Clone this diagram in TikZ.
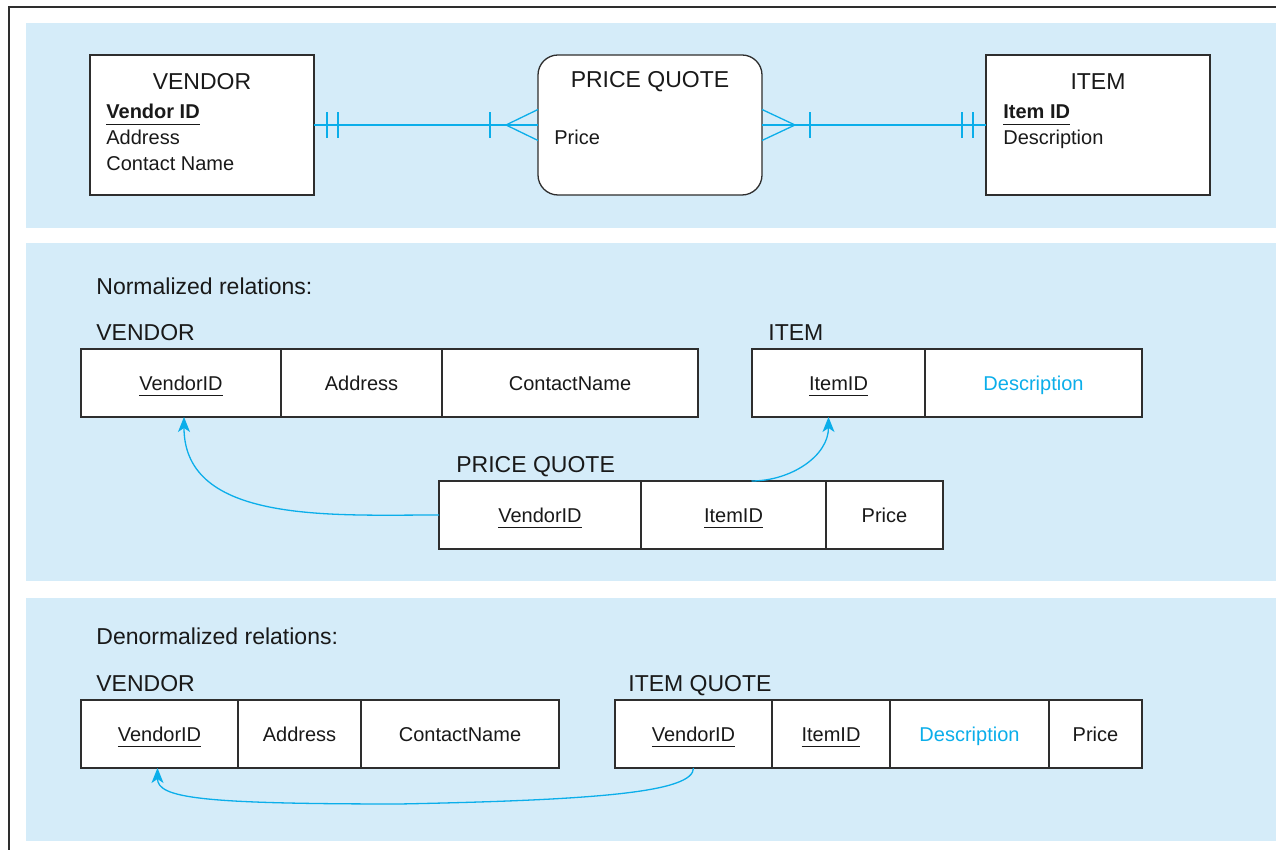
\documentclass[tikz,border=0pt]{standalone}
\usepackage{fontspec}
\setmainfont{Liberation Sans}
\usetikzlibrary{arrows.meta,calc,positioning}
\definecolor{erink}{HTML}{2E2E2E}
\definecolor{erpanel}{HTML}{D5ECF9}
\definecolor{erlink}{HTML}{0BAEEA}
\newsavebox\keybox
\newcommand\keyname[1]{\sbox\keybox{#1}\rlap{\smash{\rule[-3pt]{\wd\keybox}{0.6pt}}}\usebox\keybox}
\tikzset{
  every picture/.style={text=black!90},
  panel/.style={fill=erpanel},
  outerframe/.style={draw=erink,line width=0.7pt},
  entity/.style={draw=erink,fill=white,line width=0.65pt,minimum width=112pt,
    minimum height=70pt,inner sep=0pt,outer sep=0pt},
  assoc/.style={entity,rounded corners=10pt},
  entity title/.style={inner sep=0pt,font=\fontsize{11.5}{13}\selectfont},
  attr/.style={anchor=base west,inner sep=0pt,font=\fontsize{10}{12}\selectfont},
  relation label/.style={anchor=base west,inner sep=0pt,font=\fontsize{11.5}{13}\selectfont},
  cell/.style={draw=erink,fill=white,line width=0.65pt,minimum height=34pt,
    inner sep=0pt,outer sep=0pt,text height=7.2pt,text depth=0pt,
    font=\fontsize{10}{12}\selectfont},
  relline/.style={draw=erlink,line width=0.65pt},
  fkarrow/.style={relline,-{Stealth[length=7.5pt,width=6pt,inset=2pt]}},
}

\begin{document}
\begin{tikzpicture}[x=0.5pt,y=0.5pt]
  \path[use as bounding box] (0,0) rectangle (1276,850);
  \draw[outerframe] (9,0) -- (9,843) -- (1276,843);
  % three bands
  \fill[panel] (26,622) rectangle (1276,827);
  \fill[panel] (26,269) rectangle (1276,607);
  \fill[panel] (26,9) rectangle (1276,252);

  % E-R diagram
  \node[entity] (ven) at (202,725) {};
  \node[assoc] (pq) at (650,725) {};
  \node[entity] (item) at (1098,725) {};
  \draw[relline] (ven.east) -- (pq.west);
  \draw[relline] (pq.east) -- (item.west);
  \foreach \dx in {13,24} {
    \draw[relline] ($(ven.east)+(\dx,-13)$) -- ++(0,26);
    \draw[relline] ($(item.west)+(-\dx,-13)$) -- ++(0,26);
  }
  \draw[relline] ($(pq.west)+(-48,-13)$) -- ++(0,26);
  \draw[relline] ($(pq.east)+(48,-13)$) -- ++(0,26);
  \draw[relline] ($(pq.west)+(0,15.5)$) -- ($(pq.west)+(-32,0)$) -- ($(pq.west)+(0,-15.5)$);
  \draw[relline] ($(pq.east)+(0,15.5)$) -- ($(pq.east)+(33,0)$) -- ($(pq.east)+(0,-15.5)$);

  \node[entity title] (ventitle) at ($(ven.north)+(0,-27)$) {VENDOR};
  \node[attr] (venkey) at ($(ven.north west)+(16,-64)$) {\keyname{\bfseries Vendor ID}};
  \node[attr] (venaddr) at ($(ven.north west)+(16,-90)$) {Address};
  \node[attr] (vencname) at ($(ven.north west)+(16,-116)$) {Contact Name};
  \node[entity title] (pqtitle) at ($(pq.north)+(0,-27)$) {PRICE QUOTE};
  \node[attr] (pqattr) at ($(pq.north west)+(16,-90)$) {Price};
  \node[entity title] (itemtitle) at ($(item.north)+(0,-27)$) {ITEM};
  \node[attr] (itemkey) at ($(item.north west)+(17,-64)$) {\keyname{\bfseries Item ID}};
  \node[attr] (itemdesc) at ($(item.north west)+(17,-90)$) {Description};

  % normalized relations
  \node[relation label] (normhead) at (96,555) {Normalized relations:};
  \node[cell,minimum width=100pt,anchor=west] (nvid) at (81,467) {\keyname{VendorID}};
  \node[cell,minimum width=80.5pt,right=0pt of nvid] (nvaddr) {Address};
  \node[cell,minimum width=128pt,right=0pt of nvaddr] (nvcname) {ContactName};
  \node[relation label] (nvlabel) at ($(nvid.north west)+(15,8)$) {VENDOR};

  \node[cell,minimum width=86.5pt,anchor=west] (niid) at (752,467) {\keyname{ItemID}};
  \node[cell,minimum width=108.5pt,right=0pt of niid,text=erlink] (nidesc) {Description};
  \node[relation label] (nilabel) at ($(niid.north west)+(16,8)$) {ITEM};

  \node[cell,minimum width=101pt,anchor=west] (pqvid) at (439,335) {\keyname{VendorID}};
  \node[cell,minimum width=92.5pt,right=0pt of pqvid] (pqiid) {\keyname{ItemID}};
  \node[cell,minimum width=58.5pt,right=0pt of pqiid] (pqprice) {Price};
  \node[relation label] (pqlabel) at ($(pqvid.north west)+(17,8)$) {PRICE QUOTE};

  \draw[fkarrow] (pqvid.west) to[out=180,in=-90] ($(nvid.south)+(3,0)$);
  \draw[fkarrow] ($(pqiid.north)+(18,0)$) to[out=0,in=-90] ($(niid.south)+(-10,0)$);

  % denormalized relations
  \node[relation label] (denormhead) at (96,205) {Denormalized relations:};
  \node[cell,minimum width=78.5pt,anchor=west] (dvid) at (81,116) {\keyname{VendorID}};
  \node[cell,minimum width=61.5pt,right=0pt of dvid] (dvaddr) {Address};
  \node[cell,minimum width=99pt,right=0pt of dvaddr] (dvcname) {ContactName};
  \node[relation label] (dvlabel) at ($(dvid.north west)+(15,8)$) {VENDOR};

  \node[cell,minimum width=78.5pt,anchor=west] (iqvid) at (615,116) {\keyname{VendorID}};
  \node[cell,minimum width=59pt,right=0pt of iqvid] (iqiid) {\keyname{ItemID}};
  \node[cell,minimum width=79.5pt,right=0pt of iqiid,text=erlink] (iqdesc) {Description};
  \node[cell,minimum width=46.5pt,right=0pt of iqdesc] (iqprice) {Price};
  \node[relation label] (iqlabel) at ($(iqvid.north west)+(13,8)$) {ITEM QUOTE};

  \coordinate (quotebend) at (400,46);
  \draw[fkarrow] (iqvid.south) .. controls +(0,-24) and +(200,4) .. (quotebend)
    .. controls +(-200,0) and +(0,-30) .. ($(dvid.south)+(-2,0)$);
\end{tikzpicture}
\end{document}
